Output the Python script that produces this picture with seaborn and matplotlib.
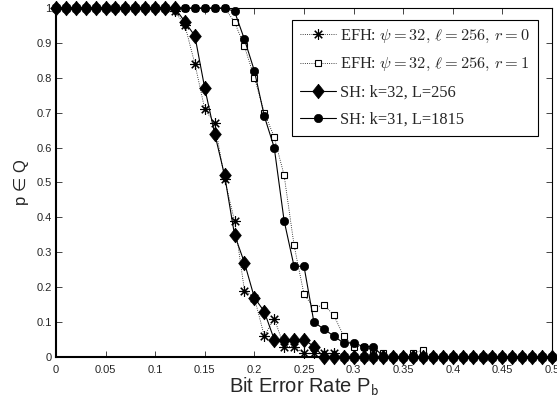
import numpy as np
import matplotlib
matplotlib.use("Agg")
import matplotlib.pyplot as plt
import seaborn as sns

# bit error rate grid, 0 .. 0.5 in steps of 0.01
ber = np.round(np.linspace(0, 0.5, 51), 2)

efh_r0 = [1.0] * 12 + [0.99, 0.95, 0.84, 0.71, 0.67, 0.51, 0.39, 0.19, 0.17,
                       0.06, 0.11, 0.03, 0.03, 0.01, 0.01, 0.01, 0.01] + [0.0] * 22
efh_r1 = [1.0] * 18 + [0.96, 0.89, 0.80, 0.70, 0.63, 0.52, 0.32, 0.18, 0.14, 0.15,
                       0.12, 0.06, 0.03, 0.03, 0.02, 0.01, 0.0, 0.0, 0.01, 0.02] + [0.0] * 13
sh_32 = [1.0] * 13 + [0.96, 0.92, 0.77, 0.64, 0.52, 0.35, 0.27, 0.17, 0.13,
                      0.05, 0.05, 0.05, 0.05, 0.03] + [0.0] * 24
sh_31 = [1.0] * 18 + [0.99, 0.91, 0.82, 0.69, 0.60, 0.39, 0.26, 0.26, 0.10,
                      0.08, 0.06, 0.04, 0.04, 0.03, 0.03] + [0.0] * 18

labels = [r"EFH: $\psi = 32,\, \ell = 256,\, r = 0$",
          r"EFH: $\psi = 32,\, \ell = 256,\, r = 1$",
          "SH: k=32, L=256",
          "SH: k=31, L=1815"]

sns.set_style("ticks")
plt.rcParams["font.family"] = ["Liberation Sans", "DejaVu Sans"]
plt.rcParams["mathtext.fontset"] = "cm"
plt.rcParams["xtick.direction"] = "in"
plt.rcParams["ytick.direction"] = "in"

diamond = [(0, 1), (0.8, 0), (0, -1), (-0.8, 0), (0, 1)]

fig = plt.figure(figsize=(5.57, 4.07), dpi=100)
ax = fig.add_axes([0.1005, 0.1229, 0.8905, 0.8575])

sns.lineplot(x=ber, y=efh_r0, ax=ax, color="k", linestyle=":", linewidth=0.6,
             marker=(8, 2, 0), markersize=7.5, markeredgecolor="k",
             markeredgewidth=0.8, label=labels[0], zorder=2, clip_on=False)
sns.lineplot(x=ber, y=efh_r1, ax=ax, color="k", linestyle=":", linewidth=0.6,
             marker="s", markersize=5, markerfacecolor="w", markeredgecolor="k",
             markeredgewidth=0.8, label=labels[1], zorder=3, clip_on=False)
sns.lineplot(x=ber, y=sh_32, ax=ax, color="k", linestyle="-", linewidth=0.8,
             marker=diamond, markersize=10.5, markerfacecolor="k", markeredgecolor="k",
             markeredgewidth=0.5, label=labels[2], zorder=5, clip_on=False)
sns.lineplot(x=ber, y=sh_31, ax=ax, color="k", linestyle="-", linewidth=0.8,
             marker="o", markersize=6, markerfacecolor="k", markeredgecolor="k",
             markeredgewidth=0.5, label=labels[3], zorder=4, clip_on=False)

ax.set_xlim(0, 0.5)
ax.set_ylim(0, 1)
ax.set_xticks(np.arange(0, 0.51, 0.05))
ax.set_yticks(np.arange(0, 1.01, 0.1))
ax.xaxis.set_major_formatter(matplotlib.ticker.FormatStrFormatter("%g"))
ax.yaxis.set_major_formatter(matplotlib.ticker.FormatStrFormatter("%g"))
ax.tick_params(axis="both", labelsize=8, length=4, width=0.6,
               top=True, right=True, pad=3)
ax.tick_params(axis="x", pad=6)
for s in ax.spines.values():
    s.set_linewidth(0.8)
    s.set_color("k")
ax.spines["bottom"].set_linewidth(1.5)
ax.spines["left"].set_linewidth(1.5)

ax.set_xlabel(r"Bit Error Rate P$_{\mathsf{b}}$", fontsize=14.5, labelpad=0)
ax.set_ylabel("p ∈ Q", fontsize=12, labelpad=5)

leg = ax.legend(loc="upper right", bbox_to_anchor=(0.972, 0.966),
                borderaxespad=0, frameon=True, fancybox=False,
                edgecolor="k", framealpha=1,
                prop={"family": ["Liberation Serif", "DejaVu Serif"], "size": 11.8},
                handlelength=2.2, labelspacing=0.68, borderpad=0.5,
                handletextpad=0.25)
leg.get_frame().set_linewidth(0.8)
leg.set_zorder(10)

fig.savefig("out.png", dpi=100)
